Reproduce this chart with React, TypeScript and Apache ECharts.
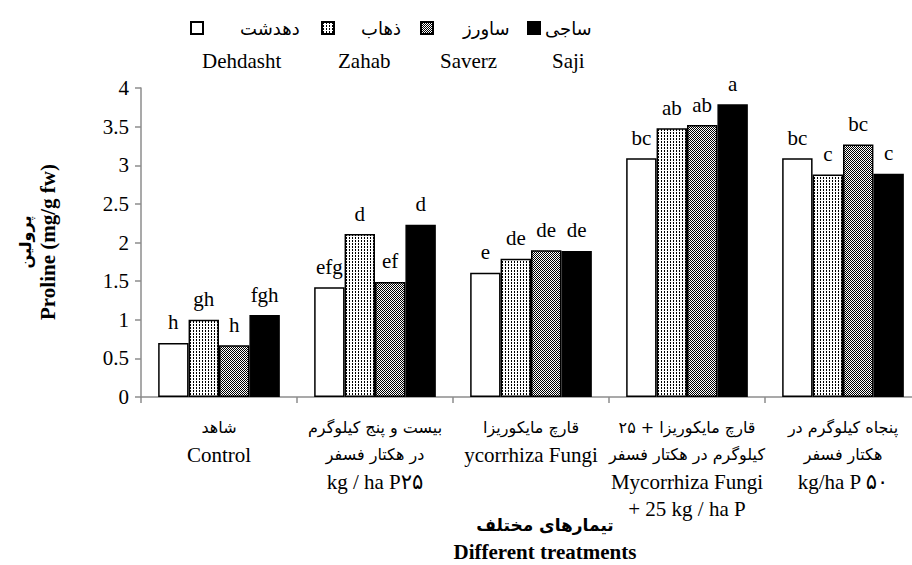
import React, { useEffect, useRef } from "react";
import * as echarts from "echarts";

const categories = [
  "شاهد\nControl",
  "بیست و پنج کیلوگرم\nدر هکتار فسفر\nkg / ha P۲۵",
  "قارچ مایکوریزا\nycorrhiza Fungi",
  "قارچ مایکوریزا + ۲۵\nکیلوگرم در هکتار فسفر\nMycorrhiza Fungi\n+ 25 kg / ha P",
  "پنجاه کیلوگرم در\nهکتار فسفر\nkg/ha P ۵۰",
];

const seriesNames = ["دهدشت", "ذهاب", "ساورز", "ساجی"];
const englishNames = ["Dehdasht", "Zahab", "Saverz", "Saji"];

const dehdasht = [0.7, 1.42, 1.61, 3.09, 3.09];
const zahab = [1.0, 2.11, 1.79, 3.48, 2.88];
const saverz = [0.67, 1.49, 1.9, 3.52, 3.27];
const saji = [1.06, 2.23, 1.89, 3.79, 2.89];

const dehdashtLetters = ["h", "efg", "e", "bc", "bc"];
const zahabLetters = ["gh", "d", "de", "ab", "c"];
const saverzLetters = ["h", "ef", "de", "ab", "bc"];
const sajiLetters = ["fgh", "d", "de", "a", "c"];

const yTicks = [0, 0.5, 1, 1.5, 2, 2.5, 3, 3.5, 4];

const SERIF = "Liberation Serif, DejaVu Sans, serif";
const FA = "DejaVu Sans, sans-serif";

function makePattern(kind: string): any {
  const c = document.createElement("canvas");
  if (kind === "dots") {
    c.width = 3;
    c.height = 3;
    const ctx = c.getContext("2d")!;
    ctx.fillStyle = "#fff";
    ctx.fillRect(0, 0, 3, 3);
    ctx.fillStyle = "#000";
    ctx.fillRect(1, 0, 1, 2);
  } else {
    c.width = 2;
    c.height = 2;
    const ctx = c.getContext("2d")!;
    ctx.fillStyle = "#fff";
    ctx.fillRect(0, 0, 2, 2);
    ctx.fillStyle = "#000";
    ctx.fillRect(0, 0, 1, 1);
    ctx.fillRect(1, 1, 1, 1);
  }
  return { image: c, repeat: "repeat", imageWidth: c.width, imageHeight: c.height };
}

const isPersianLine = (l: string) => /[\u0600-\u06FF]/.test(l) && !/[A-Za-z]/.test(l);

export default function App() {
  const ref = useRef<HTMLDivElement>(null);

  useEffect(() => {
    if (!ref.current) return;
    const chart = echarts.init(ref.current, null, { renderer: "svg" });

    const values = [dehdasht, zahab, saverz, saji];
    const letters = [dehdashtLetters, zahabLetters, saverzLetters, sajiLetters];
    const fills = ["#ffffff", makePattern("dots"), makePattern("checker"), "#000000"];

    const legendLeft = [190, 321, 420, 527];
    const legendPad = [32, 22, 25, 0];
    const englishLeft = [202, 338, 440, 552];

    const option: any = {
      animation: false,
      backgroundColor: "#ffffff",
      textStyle: { fontFamily: SERIF },
      grid: { left: 141, right: 9, top: 88, bottom: 168, containLabel: false },
      legend: seriesNames.map((n, i) => ({
        data: [n],
        left: legendLeft[i],
        top: 19,
        icon: "rect",
        itemWidth: 12,
        itemHeight: 12,
        padding: 0,
        selectedMode: false,
        textStyle: {
          fontSize: 18,
          fontFamily: FA,
          color: "#000",
          padding: [0, 0, 0, legendPad[i]],
        },
      })),
      xAxis: {
        type: "category",
        data: categories,
        axisLine: { lineStyle: { color: "#8c8c8c", width: 1.5 } },
        axisTick: { show: true, alignWithLabel: false, length: 6, lineStyle: { color: "#8c8c8c", width: 1.5 } },
        axisLabel: {
          interval: 0,
          margin: 17,
          color: "#000",
          formatter: (v: string) =>
            v
              .split("\n")
              .map((l) => (isPersianLine(l) ? `{fa|${l}}` : `{en|${l}}`))
              .join("\n"),
          rich: {
            fa: { fontSize: 16, fontFamily: FA, lineHeight: 27, color: "#000" },
            en: { fontSize: 21, fontFamily: SERIF, lineHeight: 27, color: "#000" },
          },
        },
      },
      yAxis: {
        type: "value",
        min: 0,
        max: 4,
        interval: 0.5,
        splitLine: { show: false },
        axisLine: { show: true, lineStyle: { color: "#8c8c8c", width: 1.5 } },
        axisTick: { show: true, length: 6, lineStyle: { color: "#8c8c8c", width: 1.5 } },
        axisLabel: {
          fontSize: 21,
          color: "#000",
          margin: 12,
          fontFamily: SERIF,
          formatter: (v: number) => String(yTicks.find((t) => Math.abs(t - v) < 1e-9) ?? v),
        },
      },
      series: seriesNames.map((n, i) => ({
        name: n,
        type: "bar",
        data: values[i],
        barGap: "0%",
        barCategoryGap: "22%",
        itemStyle: { color: fills[i], borderColor: "#000", borderWidth: 1.5 },
        label: {
          show: true,
          position: "top",
          distance: 10,
          fontSize: 21,
          color: "#000",
          fontFamily: SERIF,
          formatter: (p: any) => letters[i][p.dataIndex],
        },
      })),
      graphic: [
        ...englishNames.map((t, i) => ({
          type: "text",
          left: englishLeft[i],
          top: 50,
          style: { text: t, fontSize: 21, fontFamily: SERIF, fill: "#000" },
        })),
        {
          type: "text",
          x: 545,
          y: 525,
          style: {
            text: "تیمارهای مختلف",
            fontSize: 17,
            fontWeight: "bold",
            fontFamily: FA,
            fill: "#000",
            align: "center",
            verticalAlign: "middle",
          },
        },
        {
          type: "text",
          x: 545,
          y: 552,
          style: {
            text: "Different treatments",
            fontSize: 21,
            fontWeight: "bold",
            fontFamily: SERIF,
            fill: "#000",
            align: "center",
            verticalAlign: "middle",
          },
        },
        {
          type: "text",
          x: 25,
          y: 242,
          rotation: Math.PI / 2,
          style: {
            text: "پرولین",
            fontSize: 16,
            fontWeight: "bold",
            fontFamily: FA,
            fill: "#000",
            align: "center",
            verticalAlign: "middle",
          },
        },
        {
          type: "text",
          x: 48,
          y: 242,
          rotation: Math.PI / 2,
          style: {
            text: "Proline (mg/g fw)",
            fontSize: 21,
            fontWeight: "bold",
            fontFamily: SERIF,
            fill: "#000",
            align: "center",
            verticalAlign: "middle",
          },
        },
      ],
    };

    chart.setOption(option);
    return () => chart.dispose();
  }, []);

  return (
    <div
      style={{
        position: "fixed",
        left: 0,
        top: 0,
        width: 912,
        height: 565,
        overflow: "hidden",
        background: "#fff",
      }}
    >
      <div ref={ref} style={{ width: 930, height: 565 }} />
    </div>
  );
}
